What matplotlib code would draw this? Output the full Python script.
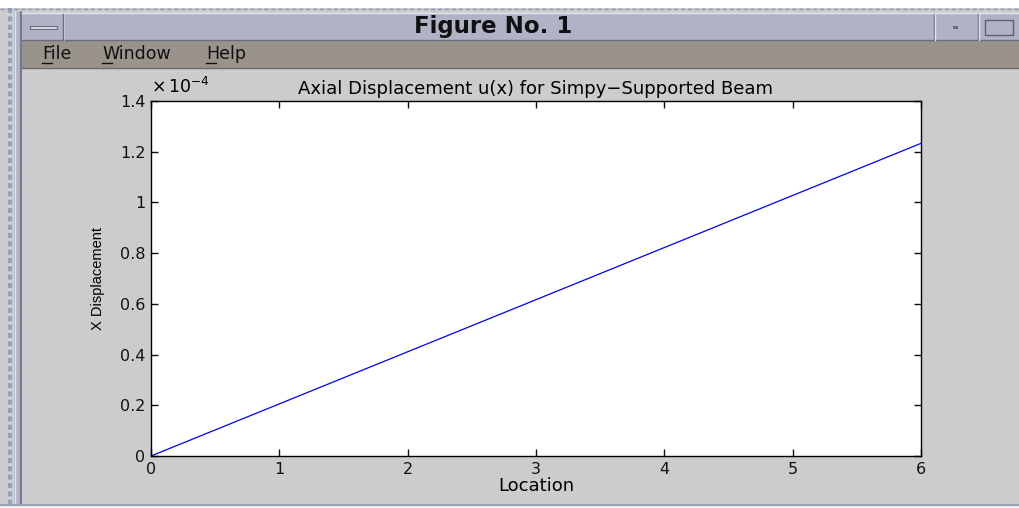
import matplotlib
matplotlib.use("Agg")
import matplotlib.pyplot as plt
from matplotlib.patches import Rectangle

# beam data (axial displacement along the beam)
location = [0, 1, 2, 3, 4, 5, 6]
x_disp = [0.0, 0.2055e-4, 0.411e-4, 0.6165e-4, 0.822e-4, 1.0275e-4, 1.233e-4]
yticks = [0, 0.2, 0.4, 0.6, 0.8, 1.0, 1.2, 1.4]
ytick_labels = ['0', '0.2', '0.4', '0.6', '0.8', '1', '1.2', '1.4']
xticks = [0, 1, 2, 3, 4, 5, 6]
menu_items = ['File', 'Window', 'Help']

FONT = 'DejaVu Sans'
W, H = 1019, 508
fig = plt.figure(figsize=(W / 100, H / 100), dpi=100)
fig.patch.set_facecolor('white')

# window chrome drawn in pixel coords
bg = fig.add_axes([0, 0, 1, 1], zorder=0)
bg.set_xlim(0, W)
bg.set_ylim(H, 0)
bg.axis('off')

def box(x, y, w, h, fc, ec='none', lw=0):
    bg.add_patch(Rectangle((x, y), w, h, facecolor=fc, edgecolor=ec, linewidth=lw))

box(0, 8, W, 500, '#cccccc')              # figure body
box(7, 8, 7, 500, '#c8d0dc')              # dashed outer border strip
bg.plot([10.5, 10.5], [8, 508], color='#93a2b8', lw=3, ls=(0, (1.2, 0.8)))
bg.plot([0, W], [9, 9], color='#8a9ab0', lw=1, ls=(0, (3, 2)))
box(14, 12, 8, 496, '#b0b3c6')            # frame
bg.plot([21, 21], [12, 505], color='#6a6d7c', lw=1.2)
bg.plot([15, 15], [12, 505], color='#e4e6ee', lw=1)
box(22, 13, W - 22, 27, '#b0b3c6')        # title bar
bg.plot([22, W], [13, 13], color='#e4e6ee', lw=1)
bg.plot([22, W], [40, 40], color='#6a6d7c', lw=1)
box(22, 40, W - 22, 28, '#99938b')        # menu bar
bg.plot([22, W], [68, 68], color='#6e6a64', lw=1)

# title bar buttons
bg.plot([64, 64], [14, 40], color='#e4e6ee', lw=1.2)
bg.plot([63, 63], [14, 40], color='#6a6d7c', lw=1)
bg.add_patch(Rectangle((30, 26), 27, 3, facecolor='#d8dae4', edgecolor='#6a6d7c', lw=0.8))
for xs in (934, 978):
    bg.plot([xs, xs], [14, 40], color='#6a6d7c', lw=1)
    bg.plot([xs + 1.5, xs + 1.5], [14, 40], color='#e4e6ee', lw=1)
box(953, 26, 5, 3, '#6a6d7c')
bg.add_patch(Rectangle((985, 20), 28, 15, facecolor='none', edgecolor='#5e6170', lw=1))
bg.text(493, 27, 'Figure No. 1', ha='center', va='center', fontsize=16.5,
        fontweight='bold', family=FONT, color='#111111')

# menu
menu_x = [42, 102, 206]
for label, mx in zip(menu_items, menu_x):
    bg.text(mx, 54, label, ha='left', va='center', fontsize=12.5,
            family=FONT, color='#111111')
    bg.plot([mx, mx + 10], [63, 63], color='#111111', lw=1)

# bottom edge
bg.plot([0, W], [505, 505], color='#9aa2b8', lw=1.5)
box(0, 506, W, 2, '#f0f0f0')

# the plot itself
L, R, T, B = 151, 921, 101, 456
ax = fig.add_axes([L / W, (H - B) / H, (R - L) / W, (B - T) / H], zorder=1)
ax.plot(location, [v / 1e-4 for v in x_disp], color='#0000ff', lw=0.9)
ax.set_xlim(0, 6)
ax.set_ylim(0, 1.4)
ax.set_xticks(xticks)
ax.set_yticks(yticks)
ax.set_yticklabels(ytick_labels)
ax.tick_params(direction='in', length=5, width=1, top=True, right=True,
               labelsize=11.5, pad=4, colors='#111111')
for lab in ax.get_xticklabels() + ax.get_yticklabels():
    lab.set_family(FONT)
for s in ax.spines.values():
    s.set_linewidth(1)
ax.set_facecolor('white')
ax.set_title('Axial Displacement u(x) for Simpy\u2212Supported Beam',
             fontsize=13, family=FONT, pad=5)
ax.set_xlabel('Location', fontsize=13, family=FONT, labelpad=0)
ax.set_ylabel('X Displacement', fontsize=10.5,
              family=['Liberation Sans Narrow', 'Liberation Sans'], labelpad=11)
ax.text(0.0, 1.01, r'$\times\,10^{-4}$', transform=ax.transAxes, ha='left',
        va='bottom', fontsize=12.5, family=FONT)

fig.savefig('out.png', dpi=100)
